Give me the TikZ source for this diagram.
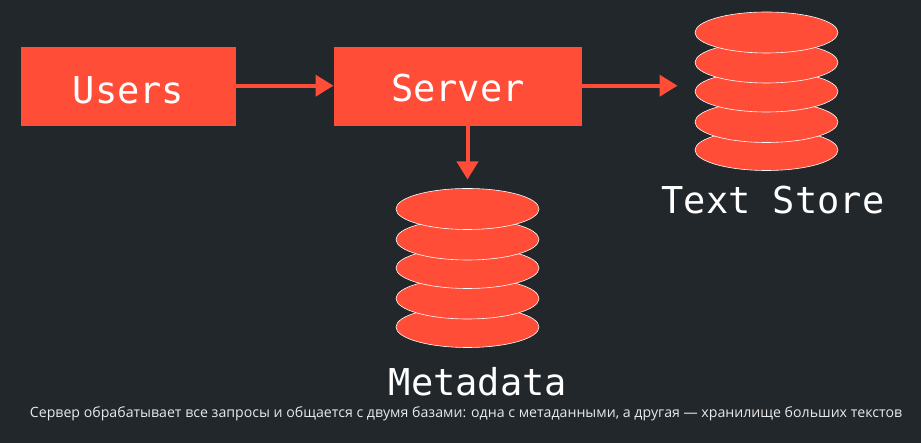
\documentclass[tikz,border=0pt]{standalone}
\usepackage{fontspec}
\setmonofont{DejaVu Sans Mono}
\setsansfont{Open Sans}
\usetikzlibrary{shapes.geometric,arrows.meta}
\definecolor{slide}{HTML}{22272B}
\definecolor{coral}{HTML}{FF4D38}
\tikzset{x=1pt, y=1pt, inner sep=0pt, outer sep=0pt}
\tikzset{box/.style={fill=coral, text=white, minimum height=79pt, text depth=0pt, font=\fontsize{37}{37}\selectfont\ttfamily}}
\tikzset{disk/.style={ellipse, draw=white, line width=0.6pt, fill=coral, minimum width=143pt, minimum height=41pt}}
\tikzset{storename/.style={text=white, font=\fontsize{37}{37}\selectfont\ttfamily}}
\tikzset{link/.style={draw=coral, line width=4pt, -{Triangle[length=18pt, width=21pt]}}}
\begin{document}
\begin{tikzpicture}
	\fill[slide] (0,0) rectangle (921,443);
	\useasboundingbox (0,0) rectangle (921,443);
	\node(users)[box, minimum width=215pt, text height=35pt] at (128.5,356.5){Users};
	\node(server)[box, minimum width=248pt, text height=31pt, right of=users, node distance=329.5pt]{Server};
	% text store, drawn from the bottom up
	\node(text5)[disk] at (766.5,293){};
	\node(text4)[disk, above of=text5, node distance=28pt]{};
	\node(text3)[disk, above of=text4, node distance=30.5pt]{};
	\node(text2)[disk, above of=text3, node distance=29pt]{};
	\node(text1)[disk, above of=text2, node distance=30pt]{};
	\node(textname)[storename, xshift=6.5pt, below of=text5, node distance=50pt]{Text Store};
	% metadata
	\node(meta5)[disk] at (467.5,116){};
	\node(meta4)[disk, above of=meta5, node distance=28.5pt]{};
	\node(meta3)[disk, above of=meta4, node distance=30.5pt]{};
	\node(meta2)[disk, above of=meta3, node distance=28.5pt]{};
	\node(meta1)[disk, above of=meta2, node distance=30.5pt]{};
	\node(metaname)[storename, xshift=10.5pt, below of=meta5, node distance=55pt]{Metadata};
	\node(caption)[text=white!90!slide, font=\fontsize{14.15}{14.15}\selectfont\sffamily] at (466,29){Сервер обрабатывает все запросы и общается с двумя базами: одна с метаданными, а другая — хранилище больших текстов};
	\coordinate(usersout) at (236,357.3);
	\coordinate(serverin) at (333.5,357.3);
	\coordinate(serverout) at (582,357.3);
	\coordinate(textin) at (677.5,357.3);
	\coordinate(metaout) at (467.5,317);
	\coordinate(metain) at (467.5,263.5);
	\draw[link](usersout) to (serverin);
	\draw[link](serverout) to (textin);
	\draw[link](metaout) to (metain);
\end{tikzpicture}
\end{document}
